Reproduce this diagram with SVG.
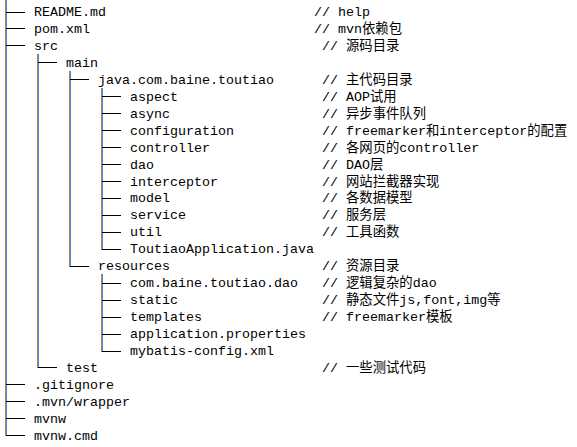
<svg xmlns="http://www.w3.org/2000/svg" width="577" height="447" viewBox="0 0 577 447">
<style>
text{font-family:"Liberation Mono","DejaVu Sans Mono","Noto Sans CJK SC",monospace;font-size:13.33px;fill:#000}
.vb{fill:#b5834a}
.vl{fill:#3f8fde}
.h{fill:#000}
rect{shape-rendering:crispEdges}
</style>
<rect width="577" height="447" fill="#fff"/>
<g id="connectors">
<rect class="vb" x="5" y="0" width="1" height="436"/><rect class="vl" x="6" y="0" width="1" height="436"/>
<rect class="vb" x="37" y="54" width="1" height="314"/><rect class="vl" x="38" y="54" width="1" height="314"/>
<rect class="vb" x="69" y="71" width="1" height="196"/><rect class="vl" x="70" y="71" width="1" height="196"/>
<rect class="vb" x="101" y="88" width="1" height="162"/><rect class="vl" x="102" y="88" width="1" height="162"/>
<rect class="vb" x="101" y="274" width="1" height="78"/><rect class="vl" x="102" y="274" width="1" height="78"/>
<rect class="h" x="6" y="12" width="19" height="1"/>
<rect class="h" x="6" y="28" width="19" height="1"/>
<rect class="h" x="6" y="45" width="19" height="1"/>
<rect class="h" x="38" y="62" width="19" height="1"/>
<rect class="h" x="70" y="79" width="19" height="1"/>
<rect class="h" x="102" y="96" width="19" height="1"/>
<rect class="h" x="102" y="113" width="19" height="1"/>
<rect class="h" x="102" y="130" width="19" height="1"/>
<rect class="h" x="102" y="147" width="19" height="1"/>
<rect class="h" x="102" y="164" width="19" height="1"/>
<rect class="h" x="102" y="181" width="19" height="1"/>
<rect class="h" x="102" y="198" width="19" height="1"/>
<rect class="h" x="102" y="215" width="19" height="1"/>
<rect class="h" x="102" y="232" width="19" height="1"/>
<rect class="h" x="102" y="249" width="19" height="1"/>
<rect class="h" x="70" y="266" width="19" height="1"/>
<rect class="h" x="102" y="283" width="19" height="1"/>
<rect class="h" x="102" y="300" width="19" height="1"/>
<rect class="h" x="102" y="317" width="19" height="1"/>
<rect class="h" x="102" y="334" width="19" height="1"/>
<rect class="h" x="102" y="351" width="19" height="1"/>
<rect class="h" x="38" y="367" width="19" height="1"/>
<rect class="h" x="6" y="384" width="19" height="1"/>
<rect class="h" x="6" y="401" width="19" height="1"/>
<rect class="h" x="6" y="418" width="19" height="1"/>
<rect class="h" x="6" y="435" width="19" height="1"/>
</g>
<g id="n-readme"><text x="34" y="16">README.md</text><text x="314" y="16">// help</text></g>
<g id="n-pom"><text x="34" y="32.95">pom.xml</text><text x="314" y="32.95">// mvn依赖包</text></g>
<g id="n-src"><text x="34" y="49.9">src</text><text x="322" y="49.9">// 源码目录</text></g>
<g id="n-main"><text x="66" y="66.85">main</text></g>
<g id="n-java"><text x="98" y="83.8">java.com.baine.toutiao</text><text x="322" y="83.8">// 主代码目录</text></g>
<g id="n-aspect"><text x="130" y="100.75">aspect</text><text x="322" y="100.75">// AOP试用</text></g>
<g id="n-async"><text x="130" y="117.7">async</text><text x="322" y="117.7">// 异步事件队列</text></g>
<g id="n-configuration"><text x="130" y="134.65">configuration</text><text x="322" y="134.65">// freemarker和interceptor的配置</text></g>
<g id="n-controller"><text x="130" y="151.6">controller</text><text x="322" y="151.6">// 各网页的controller</text></g>
<g id="n-dao"><text x="130" y="168.55">dao</text><text x="322" y="168.55">// DAO层</text></g>
<g id="n-interceptor"><text x="130" y="185.5">interceptor</text><text x="322" y="185.5">// 网站拦截器实现</text></g>
<g id="n-model"><text x="130" y="202.45">model</text><text x="322" y="202.45">// 各数据模型</text></g>
<g id="n-service"><text x="130" y="219.4">service</text><text x="322" y="219.4">// 服务层</text></g>
<g id="n-util"><text x="130" y="236.35">util</text><text x="322" y="236.35">// 工具函数</text></g>
<g id="n-app"><text x="130" y="253.3">ToutiaoApplication.java</text></g>
<g id="n-resources"><text x="98" y="270.25">resources</text><text x="322" y="270.25">// 资源目录</text></g>
<g id="n-resdao"><text x="130" y="287.2">com.baine.toutiao.dao</text><text x="322" y="287.2">// 逻辑复杂的dao</text></g>
<g id="n-static"><text x="130" y="304.15">static</text><text x="322" y="304.15">// 静态文件js,font,img等</text></g>
<g id="n-templates"><text x="130" y="321.1">templates</text><text x="322" y="321.1">// freemarker模板</text></g>
<g id="n-appprops"><text x="130" y="338.05">application.properties</text></g>
<g id="n-mybatis"><text x="130" y="355">mybatis-config.xml</text></g>
<g id="n-test"><text x="66" y="371.95">test</text><text x="322" y="371.95">// 一些测试代码</text></g>
<g id="n-gitignore"><text x="34" y="388.9">.gitignore</text></g>
<g id="n-mvnwrapper"><text x="34" y="405.85">.mvn/wrapper</text></g>
<g id="n-mvnw"><text x="34" y="422.8">mvnw</text></g>
<g id="n-mvnwcmd"><text x="34" y="439.75">mvnw.cmd</text></g>
</svg>
